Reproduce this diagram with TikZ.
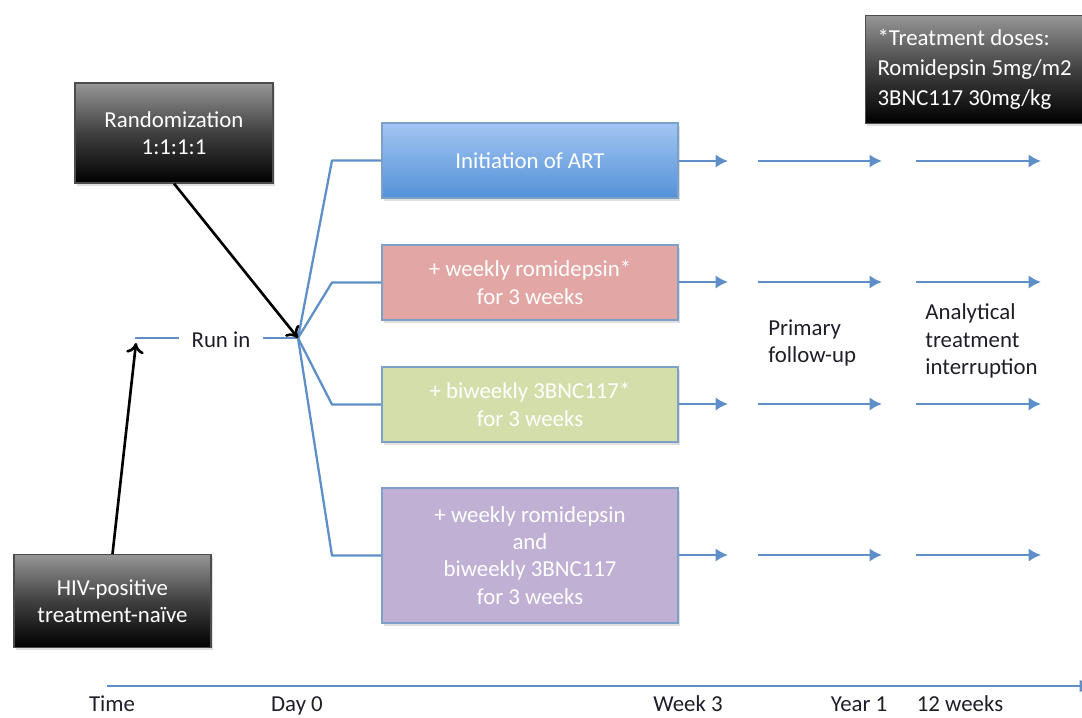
\documentclass[tikz,border=0pt]{standalone}
\usepackage{fontspec}
\setmainfont{Carlito}
\usetikzlibrary{arrows.meta,shadows,calc}
\definecolor{lineblue}{RGB}{95,143,200}
\definecolor{boxborder}{RGB}{125,160,200}
\definecolor{arttop}{RGB}{162,198,242}
\definecolor{artbot}{RGB}{84,145,216}
\definecolor{redfill}{RGB}{226,167,164}
\definecolor{greenfill}{RGB}{212,222,170}
\definecolor{purplefill}{RGB}{191,176,212}
\definecolor{darktop}{RGB}{150,150,150}
\definecolor{labeltext}{RGB}{30,30,40}
\tikzset{
  txt/.style={font=\fontsize{13}{15.5}\selectfont},
  darkbox/.style={txt, draw=black!70, line width=0.6pt, text=white, align=center,
    top color=darktop, bottom color=black, middle color=black!75,
    drop shadow={shadow xshift=1pt, shadow yshift=-1.5pt, opacity=0.25}},
  armbox/.style={txt, draw=boxborder, line width=1.2pt, text=white, align=center,
    minimum width=5.92cm, minimum height=1.5cm,
    drop shadow={shadow xshift=1pt, shadow yshift=-1.5pt, opacity=0.25}},
  blueline/.style={draw=lineblue, line width=1.3pt},
  bluearrow/.style={blueline, -{Latex[length=7pt,width=7.5pt]}},
  blackarrow/.style={draw=black, line width=1.5pt, -{To[length=6pt,width=10pt,line width=1.5pt]}},
  lbl/.style={txt, text=labeltext, align=left, inner sep=0pt},
  ticklbl/.style={txt, text=labeltext, anchor=base, inner sep=0pt},
}
\begin{document}
\begin{tikzpicture}[x=0.02cm,y=-0.02cm]
\useasboundingbox (0,0) rectangle (1082,717);
\clip (0,0) rectangle (1082,717);

% dark boxes
\node[darkbox, minimum width=3.96cm, minimum height=2cm] (rand) at (174,133)
  {Randomization\\1:1:1:1};
\node[darkbox, minimum width=3.94cm, minimum height=1.86cm] (hiv) at (112.5,601)
  {HIV-positive\\treatment-na\"ive};
\node[darkbox, anchor=north west, minimum height=2.16cm,
  align=left, inner xsep=0.24cm,
  font=\fontsize{13}{17}\selectfont] (doses) at (865,15)
  {*Treatment doses:\\Romidepsin 5mg/m2\\3BNC117 30mg/kg};

% arm boxes
\node[armbox, top color=arttop, bottom color=artbot] (art) at (530,160.5) {Initiation of ART};
\node[armbox, fill=redfill] (rom) at (530,282.5) {+ weekly romidepsin*\\for 3 weeks};
\node[armbox, fill=greenfill] (bnc) at (530,404.5) {+ biweekly 3BNC117*\\for 3 weeks};
\node[armbox, fill=purplefill, minimum height=2.7cm] (combo) at (530,555.5)
  {+ weekly romidepsin\\and\\biweekly 3BNC117\\for 3 weeks};

% run in
\coordinate (hub) at (298,338);
\coordinate (runstart) at (135,338);
\node[txt, text=labeltext, inner xsep=0.25cm] (runin) at (221,340) {Run in};
\draw[blueline] (runstart) -- (runin.west |- runstart);
\draw[blueline] (runin.east |- hub) -- (hub);

% fan
\foreach \b in {art,rom,bnc,combo}{
  \draw[blueline, line join=round] (hub) -- ([xshift=-0.98cm]\b.west) -- (\b.west);
}

% black arrows
\coordinate (runtip) at (136,343);
\draw[blackarrow] (rand.south) -- (hub);
\draw[blackarrow] (hiv.north) -- (runtip);

% right side arrows
\foreach \b/\y in {art/161,rom/282,bnc/404,combo/555}{
  \coordinate (\b a) at (728,\y);
  \coordinate (\b b1) at (758,\y);
  \coordinate (\b b2) at (882,\y);
  \coordinate (\b c1) at (916,\y);
  \coordinate (\b c2) at (1041,\y);
  \draw[bluearrow] (\b.east |- \b a) -- (\b a);
  \draw[bluearrow] (\b b1) -- (\b b2);
  \draw[bluearrow] (\b c1) -- (\b c2);
}

% phase labels
\node[lbl, anchor=west] (primary) at (768,343) {Primary\\follow-up};
\node[lbl, anchor=west] (ati) at (925,341) {Analytical\\treatment\\interruption};

% timeline
\coordinate (tl0) at (107,686);
\coordinate (tl1) at (1092,686);
\draw[bluearrow] (tl0) -- (tl1);
\node[ticklbl] (time) at (112,711) {Time};
\node[ticklbl] (day0) at (297,711) {Day 0};
\node[ticklbl] (week3) at (688,711) {Week 3};
\node[ticklbl] (year1) at (859,711) {Year 1};
\node[ticklbl] (w12) at (960,711) {12 weeks};
\end{tikzpicture}
\end{document}
